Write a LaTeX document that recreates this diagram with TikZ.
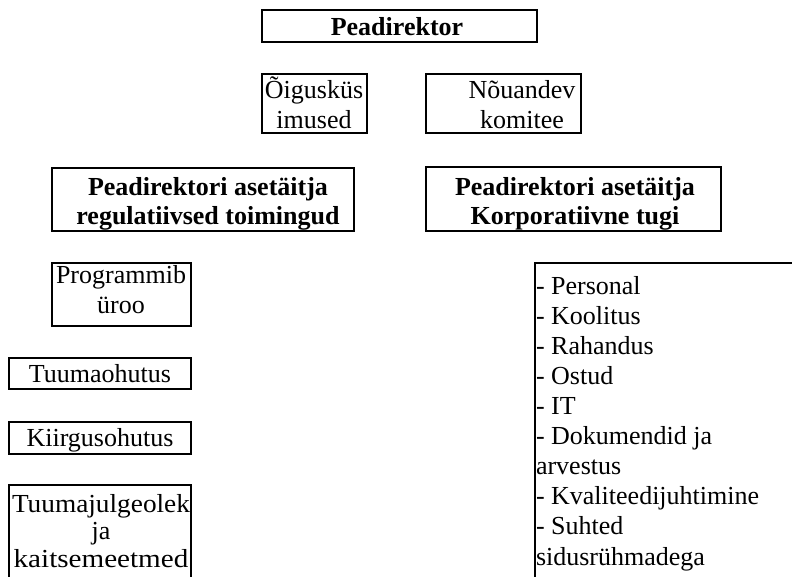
\documentclass[tikz,border=0pt]{standalone}
\usepackage{fontspec}
\setmainfont{Liberation Serif}
\begin{document}
\begin{tikzpicture}[x=1pt,y=-1pt,
  frame/.style={draw, line width=2pt, inner sep=0pt, outer sep=0pt},
  % anchor=base sits on the baseline of the last line of a node
  lbl/.style={inner sep=0pt, outer sep=0pt, align=center, anchor=base,
    font=\fontsize{26}{30}\selectfont},
  blbl/.style={lbl, font=\fontsize{26}{29}\selectfont\bfseries},
  lst/.style={inner sep=0pt, outer sep=0pt, align=left, anchor=base west,
    font=\fontsize{26}{30.1}\selectfont}]
\useasboundingbox (0,0) rectangle (792,576);
\clip (0,0) rectangle (792,576);

% top level
\node[frame, minimum width=275pt, minimum height=32pt] (dirbox) at (399.5,26) {};
\node[blbl] (dir) at (397,35) {Peadirektor};

% advisory units
\node[frame, minimum width=105pt, minimum height=59pt] (oigbox) at (314.5,103.5) {};
\node[lbl] (oig) at (314,128) {Õigusküs\\imused};
\node[frame, minimum width=155pt, minimum height=59pt] (nouabox) at (503.5,103.5) {};
\node[lbl] (noua) at (522,128) {Nõuandev\\komitee};

% deputies
\node[frame, minimum width=302pt, minimum height=63pt] (regbox) at (203,199.5) {};
\node[blbl] (reg) at (208,224) {Peadirektori asetäitja\\regulatiivsed toimingud};
\node[frame, minimum width=295pt, minimum height=64pt] (korpbox) at (573.5,199) {};
\node[blbl] (korp) at (575,224) {Peadirektori asetäitja\\Korporatiivne tugi};

% regulatory departments
\node[frame, minimum width=139pt, minimum height=63pt] (progbox) at (121.5,294.5) {};
\node[lbl] (prog) at (121,313) {Programmib\\üroo};
\node[frame, minimum width=182pt, minimum height=31pt] (tuumbox) at (100,373.5) {};
\node[lbl] (tuum) at (100,382) {Tuumaohutus};
\node[frame, minimum width=182pt, minimum height=32pt] (kiirbox) at (100,438) {};
\node[lbl] (kiir) at (100,446) {Kiirgusohutus};
\node[frame, minimum width=182pt, minimum height=115pt] (julgbox) at (100,542.5) {};
\node[lbl, font=\fontsize{26}{27.5}\selectfont] (julg) at (101,567)
  {\scalebox{1.05}[1]{Tuumajulgeolek}\\ja\\\scalebox{1.12}[1]{kaitsemeetmed}};

% corporate support services
\node[frame, minimum width=265pt, minimum height=337pt] (listbox) at (667.5,431.5) {};
\node[lst] (list) at (536,565) {- Personal\\- Koolitus\\- Rahandus\\- Ostud\\- IT\\- Dokumendid ja\\arvestus\\- Kvaliteedijuhtimine\\- Suhted\\sidusrühmadega};
\end{tikzpicture}
\end{document}
